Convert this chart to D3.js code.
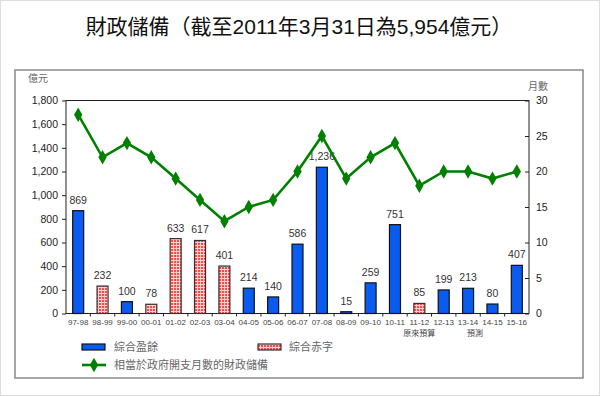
<!DOCTYPE html>
<html><head><meta charset="utf-8">
<script src="https://cdn.jsdelivr.net/npm/d3@7"></script>
<style>
html,body{margin:0;padding:0;background:#fff;}
svg{display:block;font-family:"Liberation Sans",Arial,"Noto Sans CJK TC",sans-serif;}
</style></head><body>
<script>
const categories = ["97-98","98-99","99-00","00-01","01-02","02-03","03-04","04-05","05-06","06-07","07-08","08-09","09-10","10-11","11-12","12-13","13-14","14-15","15-16"];
const balances = [869,232,100,78,633,617,401,214,140,586,1236,15,259,751,85,199,213,80,407];
const balanceType = ["s","d","s","d","d","d","d","s","s","s","s","s","s","s","d","s","s","s","s"];
const months = [28,22,24,22,19,16,13,15,16,20,25,19,22,24,18,20,20,19,20];
const leftTicks = [0,200,400,600,800,1000,1200,1400,1600,1800];
const rightTicks = [0,5,10,15,20,25,30];
const notes = [{cat:"11-12", text:"原來預算", dx:0},{cat:"13-14", text:"預測", dx:7}];
const title = "財政儲備（截至2011年3月31日為5,954億元）";
const legendLabels = ["綜合盈餘","綜合赤字","相當於政府開支月數的財政儲備"];

const W=600,H=396;
const svg=d3.select("body").append("svg").attr("width",W).attr("height",H);
const defs=svg.append("defs");
const pat=defs.append("pattern").attr("id","redpat").attr("patternUnits","userSpaceOnUse").attr("width",3).attr("height",3);
pat.append("rect").attr("width",3).attr("height",3).attr("fill","#ffd0d0");
pat.append("rect").attr("width",2).attr("height",2).attr("fill","#ff4a4a");

// outer light border
svg.append("rect").attr("x",0.5).attr("y",0.5).attr("width",W-1).attr("height",H-1).attr("fill","none").attr("stroke","#ddd");
// frame
svg.append("rect").attr("x",15).attr("y",70).attr("width",568).attr("height",308).attr("fill","#fff").attr("stroke","#8a8a8a").attr("stroke-width",1.5);

svg.append("text").attr("x",299).attr("y",34).attr("text-anchor","middle").attr("font-size",21).attr("fill","#111")
  .style("font-family",'"Liberation Sans",Arial,"Noto Sans CJK TC",sans-serif').text(title);

const x0=66,x1=529,yT=100.5,yB=313.5;
const x=d3.scaleBand().domain(categories).range([x0,x1]);
const yL=d3.scaleLinear().domain([0,1800]).range([yB,yT]);
const yR=d3.scaleLinear().domain([0,30]).range([yB,yT]);
const fmt=d3.format(",");

// plot box
svg.append("rect").attr("x",x0).attr("y",yT).attr("width",x1-x0).attr("height",yB-yT).attr("fill","none").attr("stroke","#222").attr("stroke-width",1);

// left axis
const gl=svg.append("g").attr("transform",`translate(${x0},0)`)
  .call(d3.axisLeft(yL).tickValues(leftTicks).tickFormat(fmt).tickSize(4).tickPadding(4));
gl.select(".domain").remove();
gl.selectAll("line").attr("stroke","#222");
gl.selectAll("text").attr("font-size",10.5).attr("fill","#222").style("font-family",'"Liberation Sans",Arial,sans-serif');
// right axis (ticks inward)
const gr=svg.append("g").attr("transform",`translate(${x1},0)`)
  .call(d3.axisRight(yR).tickValues(rightTicks).tickSize(0).tickPadding(7));
gr.select(".domain").remove();
gr.selectAll("text").attr("font-size",10.5).attr("fill","#222").style("font-family",'"Liberation Sans",Arial,sans-serif');
gr.selectAll(".tick").append("line").attr("x1",-4).attr("x2",0).attr("stroke","#222");

// bottom axis
const gb=svg.append("g").attr("transform",`translate(0,${yB})`)
  .call(d3.axisBottom(x).tickSize(0).tickPadding(6));
gb.select(".domain").remove();
gb.selectAll("text").attr("font-size",8).attr("fill","#444").style("font-family",'"Liberation Sans",Arial,sans-serif');
// category boundary ticks
svg.append("g").selectAll("line").data(categories.slice(1)).join("line")
  .attr("x1",d=>x(d)).attr("x2",d=>x(d)).attr("y1",yB).attr("y2",yB+3).attr("stroke","#222");

// unit labels
svg.append("text").attr("x",38).attr("y",82).attr("text-anchor","middle").attr("font-size",10).attr("fill","#666").text("億元");
svg.append("text").attr("x",538).attr("y",90).attr("text-anchor","middle").attr("font-size",10).attr("fill","#666").text("月數");

// notes
svg.append("g").selectAll("text").data(notes).join("text")
  .attr("x",d=>x(d.cat)+x.bandwidth()/2+d.dx).attr("y",336).attr("text-anchor","middle")
  .attr("font-size",8).attr("fill","#444").text(d=>d.text);

// bars
const bw=11;
const data=categories.map((c,i)=>({c,v:balances[i],t:balanceType[i],m:months[i]}));
svg.append("g").selectAll("rect").data(data).join("rect")
  .attr("x",d=>x(d.c)+x.bandwidth()/2-bw/2).attr("width",bw)
  .attr("y",d=>yL(d.v)).attr("height",d=>yB-yL(d.v))
  .attr("fill",d=>d.t==="s"?"#0a5cf0":"url(#redpat)")
  .attr("stroke",d=>d.t==="s"?"#111":"#333").attr("stroke-width",1.2);
svg.append("g").selectAll("text").data(data).join("text")
  .attr("x",d=>x(d.c)+x.bandwidth()/2).attr("y",d=>yL(d.v)-7)
  .attr("text-anchor","middle").attr("font-size",10.5).attr("fill","#333")
  .text(d=>fmt(d.v));

// line
const line=d3.line().x(d=>x(d.c)+x.bandwidth()/2).y(d=>yR(d.m));
svg.append("path").datum(data).attr("d",line).attr("fill","none").attr("stroke","#008000").attr("stroke-width",2.6);
const diamond=d3.symbol().type(d3.symbolDiamond).size(60);
svg.append("g").selectAll("path").data(data).join("path")
  .attr("transform",d=>`translate(${x(d.c)+x.bandwidth()/2},${yR(d.m)})`)
  .attr("d",diamond).attr("fill","#008000");

// legend
const lg=svg.append("g");
lg.append("rect").attr("x",82).attr("y",344).attr("width",23).attr("height",6).attr("fill","#0a5cf0").attr("stroke","#111").attr("stroke-width",1.2);
lg.append("text").attr("x",114).attr("y",351).attr("font-size",11).attr("fill","#666").text(legendLabels[0]);
lg.append("rect").attr("x",258).attr("y",344).attr("width",23).attr("height",6).attr("fill","url(#redpat)").attr("stroke","#333").attr("stroke-width",1.2);
lg.append("text").attr("x",289).attr("y",351).attr("font-size",11).attr("fill","#666").text(legendLabels[1]);
lg.append("line").attr("x1",82).attr("x2",106).attr("y1",365).attr("y2",365).attr("stroke","#008000").attr("stroke-width",2.6);
lg.append("path").attr("transform","translate(94,365)").attr("d",diamond).attr("fill","#008000");
lg.append("text").attr("x",114).attr("y",369).attr("font-size",11).attr("fill","#666").text(legendLabels[2]);
</script>
</body></html>
